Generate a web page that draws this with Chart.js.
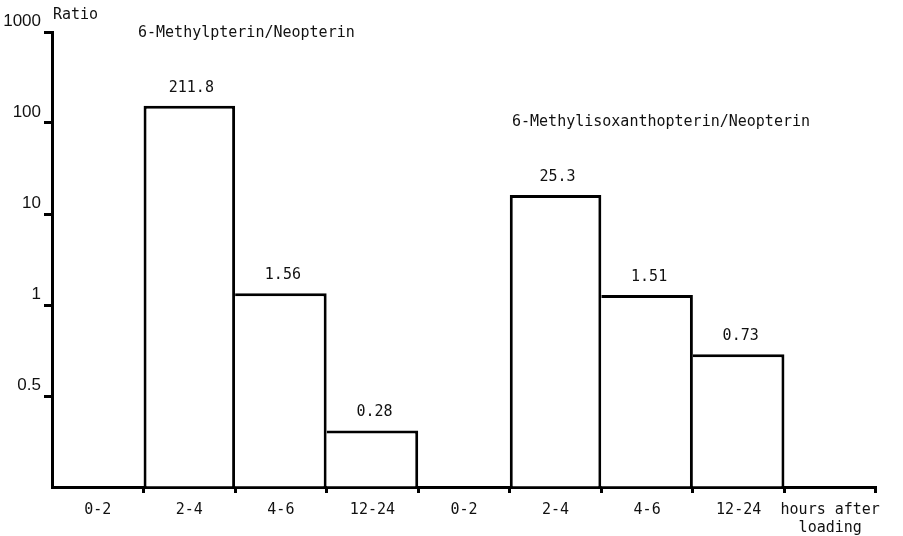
<!DOCTYPE html>
<html>
<head>
<meta charset="utf-8">
<script src="https://cdn.jsdelivr.net/npm/chart.js@4.4.0/dist/chart.umd.min.js"></script>
<style>
  html, body { margin: 0; padding: 0; background: #fff; }
  #wrap { width: 903px; height: 536px; }
</style>
</head>
<body>
<div id="wrap"><canvas id="chart" width="903" height="536"></canvas></div>
<script>
// hours-after-loading slots, two groups plus the axis caption slot
var hourLabels = ['0-2', '2-4', '4-6', '12-24', '0-2', '2-4', '4-6', '12-24', ['hours after', 'loading']];
// bar tops, in steps of the (evenly spaced) ratio ticks
var barHeights = [null, 4.19, 2.13, 0.62, null, 3.21, 2.11, 1.46, null];
// ratio printed above each bar
var ratioLabels = ['', '211.8', '1.56', '0.28', '', '25.3', '1.51', '0.73', ''];
// tick labels at positions 0..5 of the y axis
var yTickLabels = ['', '0.5', '1', '10', '100', '1000'];

var mono = '"DejaVu Sans Mono", "Liberation Mono", monospace';
var sans = '"Liberation Sans", Arial, sans-serif';

var textPlugin = {
  id: 'texts',
  afterDatasetsDraw: function(chart) {
    var ctx = chart.ctx;
    ctx.save();
    ctx.fillStyle = '#111';
    ctx.font = '15px ' + mono;
    ctx.textAlign = 'center';
    ctx.textBaseline = 'middle';
    chart.getDatasetMeta(0).data.forEach(function(bar, i) {
      if (!ratioLabels[i]) return;
      ctx.fillText(ratioLabels[i], bar.x + 2, bar.y - 18);
    });
    ctx.textAlign = 'left';
    ctx.fillText('Ratio', 53, 15);
    ctx.fillText('6-Methylpterin/Neopterin', 138, 33);
    ctx.fillText('6-Methylisoxanthopterin/Neopterin', 512, 122);
    ctx.restore();
  }
};

// a shared edge is drawn once, by the (taller) bar on its left
function edgeWidth(ctx) {
  var i = ctx.dataIndex;
  var hasPrev = i > 0 && barHeights[i - 1] != null;
  return { top: 3, bottom: 0, left: hasPrev ? 0 : 3, right: 3 };
}

var lastX = hourLabels.length;

var config = {
  type: 'bar',
  data: {
    labels: hourLabels,
    datasets: [{
      data: barHeights,
      backgroundColor: '#fff',
      borderColor: '#000',
      borderWidth: edgeWidth,
      borderSkipped: 'start',
      inflateAmount: 0,
      barPercentage: 1,
      categoryPercentage: 1
    }]
  },
  options: {
    responsive: false,
    animation: false,
    layout: { padding: { top: 32, right: 27, left: 0, bottom: 0 } },
    plugins: {
      legend: { display: false },
      tooltip: { enabled: false }
    },
    scales: {
      x: {
        grid: {
          display: true,
          offset: true,
          drawOnChartArea: false,
          drawTicks: true,
          tickLength: 6,
          tickWidth: 3,
          color: function(c) {
            return (c.index === 0 || c.index === lastX) ? 'rgba(0,0,0,0)' : '#000';
          }
        },
        border: { display: true, color: '#000', width: 3 },
        ticks: {
          color: '#111',
          font: { family: mono, size: 15 },
          padding: 8,
          autoSkip: false,
          maxRotation: 0
        },
        afterFit: function(s) { s.height = 49; }
      },
      y: {
        min: 0,
        max: 5,
        grid: {
          display: true,
          drawOnChartArea: false,
          drawTicks: true,
          tickLength: 8,
          tickWidth: 3,
          color: function(c) {
            return c.tick && c.tick.value === 0 ? 'rgba(0,0,0,0)' : '#000';
          }
        },
        border: { display: true, color: '#000', width: 3 },
        ticks: {
          stepSize: 1,
          color: '#111',
          padding: 3,
          font: { family: sans, size: 17 },
          callback: function(v) {
            var t = yTickLabels[v];
            return t ? [t, ''] : '';
          }
        },
        afterFit: function(s) { s.width = 52; }
      }
    }
  },
  plugins: [textPlugin]
};

var chart = new Chart(document.getElementById('chart').getContext('2d'), config);
</script>
</body>
</html>
